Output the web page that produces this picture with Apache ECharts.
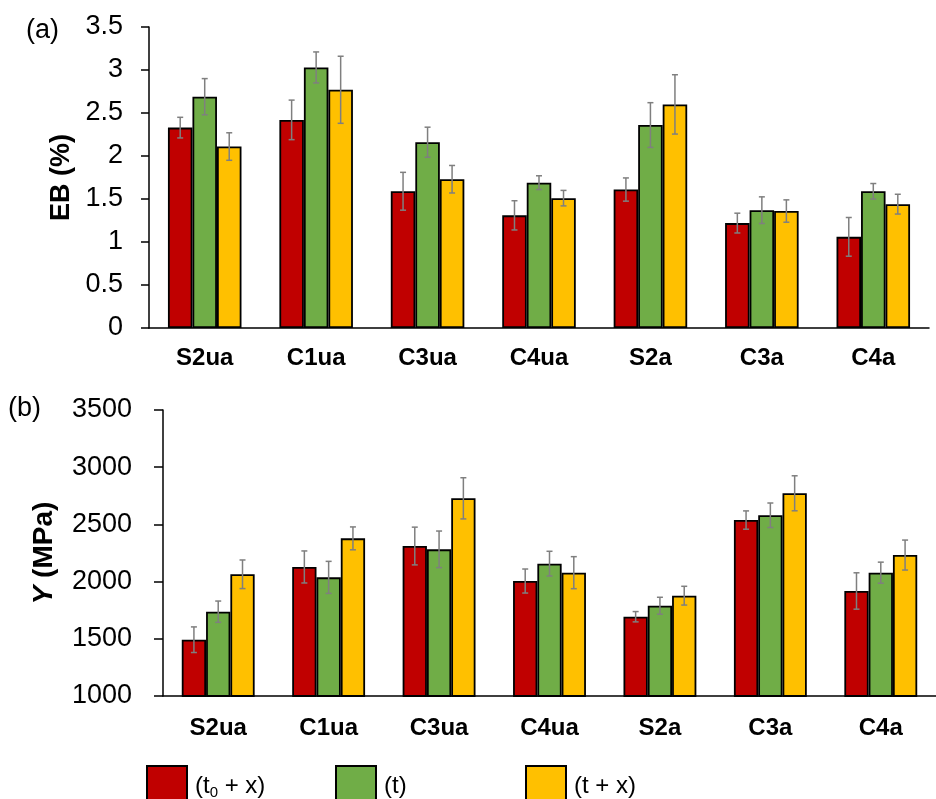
<!DOCTYPE html>
<html>
<head>
<meta charset="utf-8">
<script src="https://cdn.jsdelivr.net/npm/echarts@6/dist/echarts.min.js"></script>
<style>html,body{margin:0;padding:0;background:#fff;}#c{width:936px;height:799px;}</style>
</head>
<body>
<div id="c"></div>
<script>
var categories = ['S2ua','C1ua','C3ua','C4ua','S2a','C3a','C4a'];
var seriesNames = ['(t0 + x)','(t)','(t + x)'];

var ebT0x = [2.33, 2.42, 1.59, 1.31, 1.61, 1.22, 1.06];
var ebT   = [2.69, 3.03, 2.16, 1.69, 2.36, 1.37, 1.59];
var ebTx  = [2.11, 2.77, 1.73, 1.51, 2.60, 1.36, 1.44];
var ebT0xErr = [0.12, 0.23, 0.22, 0.17, 0.135, 0.115, 0.225];
var ebTErr   = [0.21, 0.18, 0.175, 0.08, 0.26, 0.155, 0.09];
var ebTxErr  = [0.16, 0.39, 0.16, 0.09, 0.345, 0.13, 0.115];

var yT0x = [1492, 2128, 2311, 2005, 1693, 2538, 1918];
var yT   = [1737, 2037, 2282, 2157, 1789, 2580, 2078];
var yTx  = [2064, 2378, 2728, 2078, 1877, 2772, 2232];
var yT0xErr = [112, 140, 165, 105, 45, 80, 159];
var yTErr   = [93, 140, 160, 108, 74, 107, 92];
var yTxErr  = [125, 100, 180, 140, 82, 153, 131];

var colors = ['#C00000', '#70AD47', '#FFC000'];
var FONT = 'Liberation Sans';
var CAT_GAP = 0.34;

var chart = echarts.init(document.getElementById('c'));

function barSeries(name, data, gi, ci) {
  return {
    type: 'bar', name: name, data: data,
    xAxisIndex: gi, yAxisIndex: gi,
    barGap: '0%', barCategoryGap: (CAT_GAP * 100) + '%',
    itemStyle: { color: colors[ci], borderColor: '#000', borderWidth: 1.8 },
    emphasis: { disabled: true },
    z: 2
  };
}
function errSeries(name, vals, errs, gi, ci) {
  var data = vals.map(function (v, i) { return [i, v - errs[i], v + errs[i]]; });
  return {
    type: 'custom', name: name,
    xAxisIndex: gi, yAxisIndex: gi,
    data: data,
    encode: { x: 0, y: [1, 2] },
    z: 5,
    renderItem: function (params, api) {
      var band = api.size([1, 0])[0];
      var bw = band * (1 - CAT_GAP) / 3;
      var off = (ci - 1) * bw;
      var lo = api.coord([api.value(0), api.value(1)]);
      var hi = api.coord([api.value(0), api.value(2)]);
      var x = lo[0] + off;
      var cap = 3;
      var st = { stroke: '#7F7F7F', lineWidth: 1.5 };
      return {
        type: 'group',
        children: [
          { type: 'line', shape: { x1: x, y1: lo[1], x2: x, y2: hi[1] }, style: st },
          { type: 'line', shape: { x1: x - cap, y1: lo[1], x2: x + cap, y2: lo[1] }, style: st },
          { type: 'line', shape: { x1: x - cap, y1: hi[1], x2: x + cap, y2: hi[1] }, style: st }
        ]
      };
    }
  };
}

var axisLineStyle = { show: true, lineStyle: { color: '#000', width: 1.5 } };

function legendAt(i, left) {
  return {
    data: [seriesNames[i]],
    left: left, top: 765, padding: 0,
    itemWidth: 40, itemHeight: 40, itemGap: 8,
    icon: 'rect',
    selectedMode: false,
    formatter: function (n) {
      if (n === '(t0 + x)') return '(t{sub|0} + x)';
      return n;
    },
    textStyle: {
      fontFamily: FONT, fontSize: 24, color: '#000', padding: [0, 0, 0, 3],
      rich: { sub: { fontFamily: FONT, fontSize: 15, color: '#000', padding: [14, 0, 0, 0] } }
    }
  };
}

var option = {
  animation: false,
  backgroundColor: '#fff',
  textStyle: { fontFamily: FONT },
  title: [
    { text: '(a)', left: 26, top: 17, padding: 0, textStyle: { fontFamily: FONT, fontSize: 27, fontWeight: 'normal', color: '#000' } },
    { text: '(b)', left: 8, top: 395, padding: 0, textStyle: { fontFamily: FONT, fontSize: 27, fontWeight: 'normal', color: '#000' } }
  ],
  legend: [legendAt(0, 146), legendAt(1, 335), legendAt(2, 525)],
  grid: [
    { left: 149, top: 27, width: 780, height: 301, containLabel: false },
    { left: 163, top: 410, width: 783, height: 286, containLabel: false }
  ],
  xAxis: [
    { type: 'category', gridIndex: 0, data: categories,
      axisLine: axisLineStyle, axisTick: { show: false },
      axisLabel: { fontFamily: FONT, fontSize: 24, fontWeight: 'bold', color: '#000', margin: 18 } },
    { type: 'category', gridIndex: 1, data: categories,
      axisLine: axisLineStyle, axisTick: { show: false },
      axisLabel: { fontFamily: FONT, fontSize: 24, fontWeight: 'bold', color: '#000', margin: 20 } }
  ],
  yAxis: [
    { type: 'value', gridIndex: 0, min: 0, max: 3.5, interval: 0.5,
      splitLine: { show: false },
      axisLine: axisLineStyle,
      axisTick: { show: true, length: 8, lineStyle: { color: '#000', width: 1.5 } },
      axisLabel: { fontFamily: FONT, fontSize: 27, color: '#000', margin: 26 },
      name: 'EB (%)', nameLocation: 'middle', nameGap: 69, nameRotate: 90,
      nameTextStyle: { fontFamily: FONT, fontSize: 27, fontWeight: 'bold', color: '#000' } },
    { type: 'value', gridIndex: 1, min: 1000, max: 3500, interval: 500,
      splitLine: { show: false },
      axisLine: axisLineStyle,
      axisTick: { show: true, length: 9, lineStyle: { color: '#000', width: 1.5 } },
      axisLabel: { fontFamily: FONT, fontSize: 27, color: '#000', margin: 31,
        formatter: function (v) { return String(v); } },
      name: '{i|Y} (MPa)', nameLocation: 'middle', nameGap: 105, nameRotate: 90,
      nameTextStyle: { fontFamily: FONT, fontSize: 28, fontWeight: 'bold', color: '#000',
        rich: { i: { fontFamily: FONT, fontSize: 28, fontWeight: 'bold', fontStyle: 'italic', color: '#000' } } } }
  ],
  series: [
    barSeries(seriesNames[0], ebT0x, 0, 0),
    barSeries(seriesNames[1], ebT, 0, 1),
    barSeries(seriesNames[2], ebTx, 0, 2),
    errSeries('err-a0', ebT0x, ebT0xErr, 0, 0),
    errSeries('err-a1', ebT, ebTErr, 0, 1),
    errSeries('err-a2', ebTx, ebTxErr, 0, 2),
    barSeries(seriesNames[0], yT0x, 1, 0),
    barSeries(seriesNames[1], yT, 1, 1),
    barSeries(seriesNames[2], yTx, 1, 2),
    errSeries('err-b0', yT0x, yT0xErr, 1, 0),
    errSeries('err-b1', yT, yTErr, 1, 1),
    errSeries('err-b2', yTx, yTxErr, 1, 2)
  ]
};
chart.setOption(option);
</script>
</body>
</html>
